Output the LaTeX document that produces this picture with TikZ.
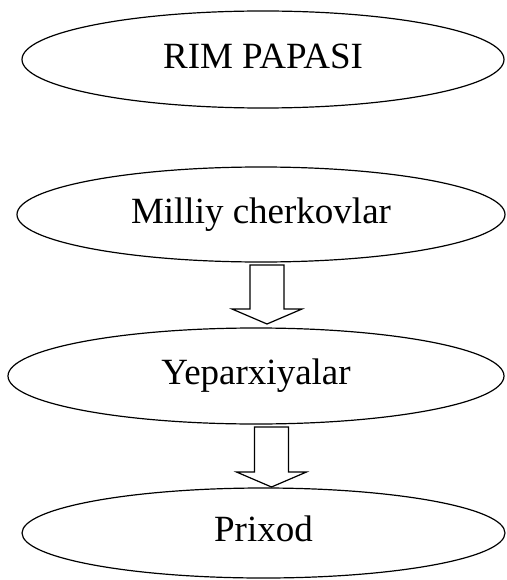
\documentclass[tikz,border=0pt]{standalone}
\usepackage{fontspec}
\setmainfont{Liberation Serif}
\usetikzlibrary{shapes.geometric, calc}

% hollow down arrow from #1 (top of shaft) to #2 (tip)
\newcommand{\blockarrow}[2]{%
  \draw[blockarr] let \p1=(#1), \p2=(#2) in
    (\x1-17pt,\y1) -- (\x1+17pt,\y1) -- (\x1+17pt,\y2+15pt) -- (\x1+35pt,\y2+15pt)
    -- (\x2,\y2) -- (\x1-35pt,\y2+15pt) -- (\x1-17pt,\y2+15pt) -- cycle;}

\begin{document}
\begin{tikzpicture}[x=1pt, y=-1pt,
    oval/.style={draw, ellipse, line width=1.2pt, inner sep=0pt,
      text height=25.3pt, text depth=8pt, font=\fontsize{37}{44}\selectfont},
    blockarr/.style={line width=1.2pt, line join=miter}]
    \useasboundingbox (0,0) rectangle (506,580);

    % Levels
    \node[oval, minimum width=482pt, minimum height=97pt] (papa) at (263,59.5) {RIM PAPASI};
    \node[oval, minimum width=488pt, minimum height=95pt] (milliy) at (261,214.5) {Milliy cherkovlar};
    \node[oval, minimum width=496pt, minimum height=96pt] (yep) at (256,376) {Yeparxiyalar};
    \node[oval, minimum width=483pt, minimum height=90pt] (prixod) at (263.5,533) {Prixod};

    % Arrows
    \coordinate (a1top) at (267,265);
    \coordinate (a1tip) at (267,324);
    \coordinate (a2top) at (271.5,427);
    \coordinate (a2tip) at (271.5,487);
    \blockarrow{a1top}{a1tip}
    \blockarrow{a2top}{a2tip}
\end{tikzpicture}
\end{document}
